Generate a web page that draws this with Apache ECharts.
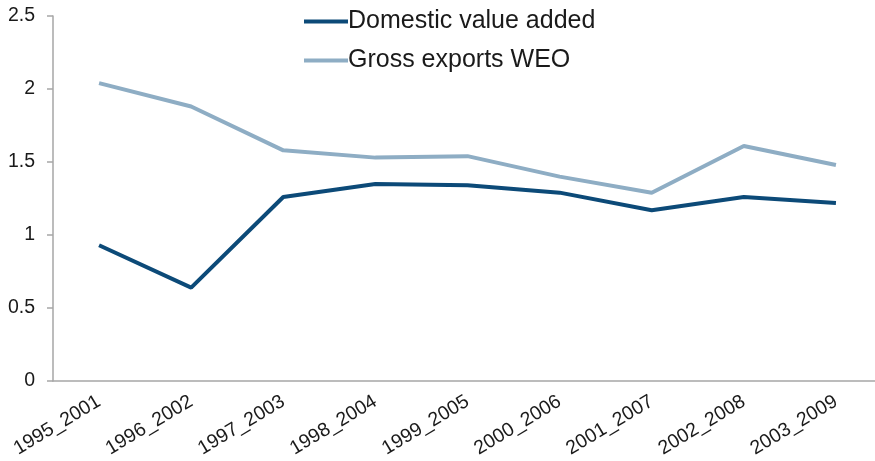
<!DOCTYPE html>
<html><head><meta charset="utf-8">
<script src="https://cdn.jsdelivr.net/npm/echarts@6/dist/echarts.min.js"></script>
<style>html,body{margin:0;padding:0;background:#fff;overflow:hidden;width:875px;height:461px}#c{width:885px;height:461px}</style>
</head><body><div id="c"></div>
<script>
const categories = ["1995_2001","1996_2002","1997_2003","1998_2004","1999_2005","2000_2006","2001_2007","2002_2008","2003_2009"];
const domesticValueAdded = [0.93, 0.64, 1.26, 1.35, 1.34, 1.29, 1.17, 1.26, 1.22];
const grossExportsWEO = [2.04, 1.88, 1.58, 1.53, 1.54, 1.40, 1.29, 1.61, 1.48];
const yTicks = [0, 0.5, 1, 1.5, 2, 2.5];

const chart = echarts.init(document.getElementById('c'));
const font = '"Liberation Sans", Arial, sans-serif';
chart.setOption({
  animation: false,
  grid: { left: 53, right: 3, top: 16, bottom: 80, containLabel: false },
  legend: {
    orient: 'vertical', left: 299, top: 4, itemGap: 14,
    itemWidth: 44, itemHeight: 4, icon: 'rect',
    textStyle: { fontFamily: font, fontSize: 25, color: '#1a1a1a', padding: [0,0,0,-5] },
    data: ['Domestic value added', 'Gross exports WEO']
  },
  xAxis: {
    type: 'category', data: categories, boundaryGap: true,
    axisLine: { lineStyle: { color: '#a6a6a6', width: 1.5 } },
    axisTick: { length: 6, lineStyle: { color: '#a6a6a6', width: 1.5 } },
    axisLabel: { rotate: 31, fontFamily: font, fontSize: 19.5, color: '#1a1a1a', margin: 19, interval: 0 }
  },
  yAxis: {
    type: 'value', min: yTicks[0], max: yTicks[yTicks.length-1], interval: 0.5,
    splitLine: { show: false },
    axisLine: { show: true, lineStyle: { color: '#a6a6a6', width: 1.5 } },
    axisTick: { show: true, length: 6, lineStyle: { color: '#a6a6a6', width: 1.5 } },
    axisLabel: { fontFamily: font, fontSize: 19.5, color: '#1a1a1a', margin: 18 }
  },
  series: [
    { name: 'Domestic value added', type: 'line', data: domesticValueAdded, symbol: 'none',
      lineStyle: { color: '#0c4a78', width: 4 }, itemStyle: { color: '#0c4a78' } },
    { name: 'Gross exports WEO', type: 'line', data: grossExportsWEO, symbol: 'none',
      lineStyle: { color: '#8eadc4', width: 4 }, itemStyle: { color: '#8eadc4' } }
  ]
});
</script></body></html>
